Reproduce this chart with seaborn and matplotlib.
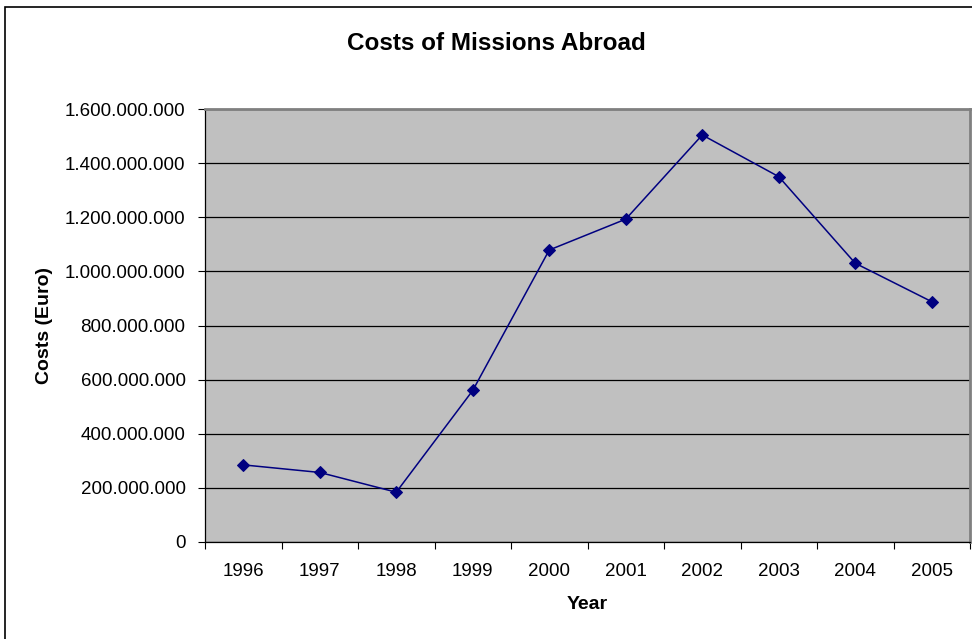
import matplotlib
matplotlib.use("Agg")
import matplotlib.pyplot as plt
import seaborn as sns
import pandas as pd
from matplotlib.ticker import FuncFormatter, FixedLocator, MultipleLocator
from matplotlib.patches import Rectangle

years = [1996, 1997, 1998, 1999, 2000, 2001, 2002, 2003, 2004, 2005]
costs = [285e6, 257e6, 184e6, 560e6, 1079e6, 1193e6, 1504e6, 1350e6, 1030e6, 888e6]
title = "Costs of Missions Abroad"
xlabel = "Year"
ylabel = "Costs (Euro)"

sns.set_theme(style="white")
plt.rcParams['font.family'] = ['Liberation Sans', 'DejaVu Sans']

df = pd.DataFrame({"Year": years, "Costs": costs})

fig = plt.figure(figsize=(9.72, 6.39), dpi=100)
fig.patch.set_facecolor("white")
W, H = 972, 639
ax = fig.add_axes([205 / W, 1 - 542 / H, 765 / W, 433 / H])
ax.set_facecolor("#C0C0C0")

sns.lineplot(data=df, x="Year", y="Costs", ax=ax, color="#000080", marker="D",
             markersize=6.5, markeredgecolor="#000080", linewidth=1.1, zorder=5)

ax.set_xlim(years[0] - 0.5, years[-1] + 0.5)
ax.set_ylim(0, 1.6e9)
ax.yaxis.set_major_locator(MultipleLocator(2e8))
ax.yaxis.set_major_formatter(FuncFormatter(lambda v, p: f"{v:,.0f}".replace(",", ".")))
ax.grid(axis="y", color="black", linewidth=0.9)
ax.grid(axis="x", visible=False)
ax.set_axisbelow(True)

# x ticks at category boundaries, labels at centers
bounds = [y - 0.5 for y in years] + [years[-1] + 0.5]
ax.xaxis.set_major_locator(FixedLocator(bounds))
ax.xaxis.set_major_formatter(FuncFormatter(lambda v, p: ""))
ax.xaxis.set_minor_locator(FixedLocator(years))
ax.xaxis.set_minor_formatter(FuncFormatter(lambda v, p: f"{int(round(v))}"))
ax.tick_params(axis="x", which="major", direction="out", length=5, width=0.8, color="black", bottom=True)
ax.tick_params(axis="x", which="minor", length=0, pad=15, labelsize=13.5, labelcolor="black", bottom=True)
ax.tick_params(axis="y", which="major", direction="out", length=5, width=0.8, color="black",
               left=True, pad=9, labelsize=13.5, labelcolor="black")

for side in ["left", "bottom"]:
    ax.spines[side].set_color("black")
    ax.spines[side].set_linewidth(0.9)
for side in ["top", "right"]:
    ax.spines[side].set_color("#808080")
    ax.spines[side].set_linewidth(2)

ax.set_xlabel(xlabel, fontsize=14, fontweight="bold", color="black")
ax.set_ylabel(ylabel, fontsize=14, fontweight="bold", color="black")
ax.xaxis.set_label_coords(0.5, (542 - 596) / 433)
ax.yaxis.set_label_coords((53 - 205) / 765, 0.5)

fig.text(496 / W, 1 - 43 / H, title, ha="center", va="center", fontsize=17.5,
         fontweight="bold", color="black")

# outer chart border
fig.add_artist(Rectangle((4.5 / W, -0.05), 1.2, 1 - 6.5 / H + 0.05, transform=fig.transFigure,
                         fill=False, edgecolor="black", linewidth=1.2))

fig.savefig("out.png", dpi=100)
